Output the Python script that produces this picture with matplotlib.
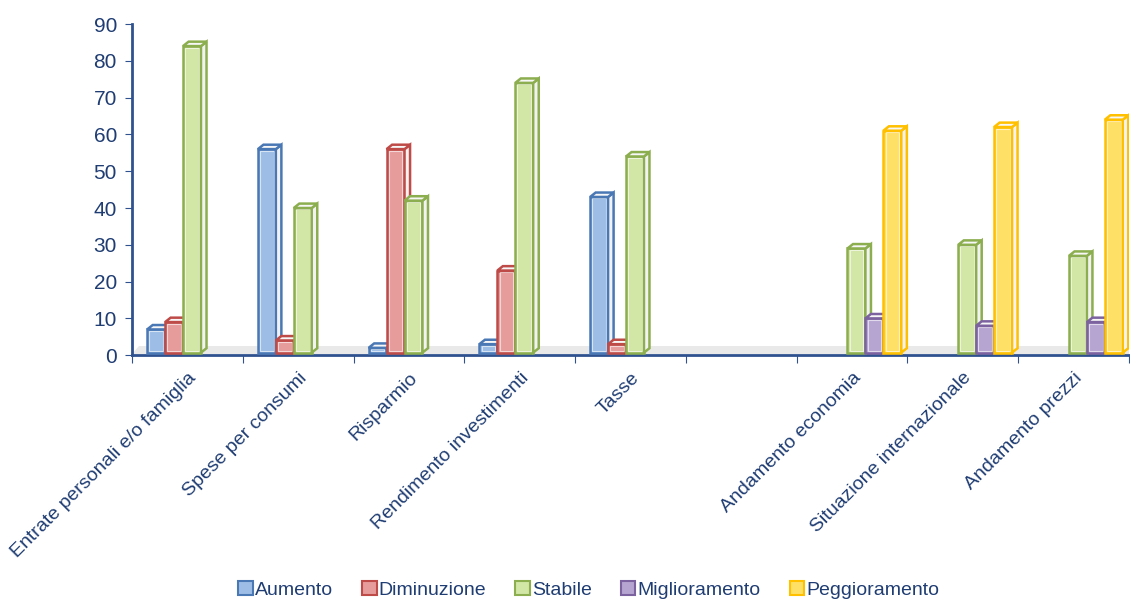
import matplotlib.pyplot as plt
from matplotlib.patches import Polygon, Patch
from matplotlib import font_manager

categories = ['Entrate personali e/o famiglia', 'Spese per consumi', 'Risparmio',
              'Rendimento investimenti', 'Tasse', '',
              'Andamento economia', 'Situazione internazionale', 'Andamento prezzi']
series_names = ['Aumento', 'Diminuzione', 'Stabile', 'Miglioramento', 'Peggioramento']

aumento = [7, 56, 2, 3, 43, None, None, None, None]
diminuzione = [9, 4, 56, 23, 3, None, None, None, None]
stabile = [84, 40, 42, 74, 54, None, 29, 30, 27]
miglioramento = [None, None, None, None, None, None, 10, 8, 9]
peggioramento = [None, None, None, None, None, None, 61, 62, 64]

fills = ['#9DBDE6', '#E69C9B', '#D2E6A6', '#B6A5D1', '#FFE066']
edges = ['#4A78B5', '#BE4B48', '#8CAE4F', '#7C63A0', '#FFC000']

names = [f.name for f in font_manager.fontManager.ttflist]
fam = 'Liberation Sans Narrow' if 'Liberation Sans Narrow' in names else 'Liberation Sans'
plt.rcParams['font.family'] = [fam, 'DejaVu Sans']
txt = '#1F3D73'
axc = '#2F528F'

fig = plt.figure(figsize=(11.3, 6), dpi=100)
ax = fig.add_axes([0.117, 0.408, 0.882, 0.552])

all_vals = [aumento, diminuzione, stabile, miglioramento, peggioramento]
w = 0.162
off = 0.135
dx, dy = 0.05, 1.2
base = 0.7

# pavimento 3D
ax.add_patch(Polygon([(0, 0.4), (9, 0.4), (9, 2.6), (0.06, 2.6)], closed=True,
                     facecolor='#E9E9E9', edgecolor='none', zorder=1))

for j, vals in enumerate(all_vals):
    for i, v in enumerate(vals):
        if v is None:
            continue
        x0 = i + off + j * w
        z = 3 + j
        ax.bar(x0, v - base, width=w, bottom=base, align='edge', color=fills[j],
               edgecolor=edges[j], linewidth=1.8, zorder=z)
        ax.bar(x0 + 0.02, v - base - 0.8, width=w - 0.04, bottom=base + 0.4, align='edge',
               color='none', edgecolor='white', linewidth=0.8, alpha=0.6, zorder=z)
        side = [(x0 + w, base), (x0 + w + dx, base + dy), (x0 + w + dx, v + dy), (x0 + w, v)]
        top = [(x0, v), (x0 + dx, v + dy), (x0 + w + dx, v + dy), (x0 + w, v)]
        ax.add_patch(Polygon(side, closed=True, facecolor='#F2F2F2', edgecolor=edges[j],
                             linewidth=1.8, zorder=z))
        ax.add_patch(Polygon(top, closed=True, facecolor='#F7F7F7', edgecolor=edges[j],
                             linewidth=1.8, zorder=z))

ax.set_xlim(0, 9)
ax.set_ylim(0, 90)
ax.set_yticks(range(0, 91, 10))
ax.set_xticks(range(10))
ax.set_xticklabels([])
ax.set_xticks([i + 0.5 for i in range(9)], minor=True)
ax.set_xticklabels(categories, minor=True, rotation=45, ha='right',
                   rotation_mode='anchor', fontsize=14, color=txt)
ax.tick_params(axis='x', which='minor', length=0, pad=10)
ax.tick_params(axis='x', which='major', length=6, color=axc, direction='out')
ax.tick_params(axis='y', length=5, color=axc, labelsize=15, labelcolor=txt, pad=6)

for s in ['top', 'right']:
    ax.spines[s].set_visible(False)
for s in ['left', 'bottom']:
    ax.spines[s].set_color(axc)
    ax.spines[s].set_linewidth(2)

handles = [Patch(facecolor=fills[k], edgecolor=edges[k], linewidth=1.5) for k in range(5)]
fig.legend(handles, series_names, loc='center', bbox_to_anchor=(0.521, 0.017), ncol=5,
           frameon=False, fontsize=14, labelcolor=txt, handlelength=0.75, handleheight=0.75,
           handletextpad=0.1, columnspacing=1.5)

fig.savefig('out.png', dpi=100)
